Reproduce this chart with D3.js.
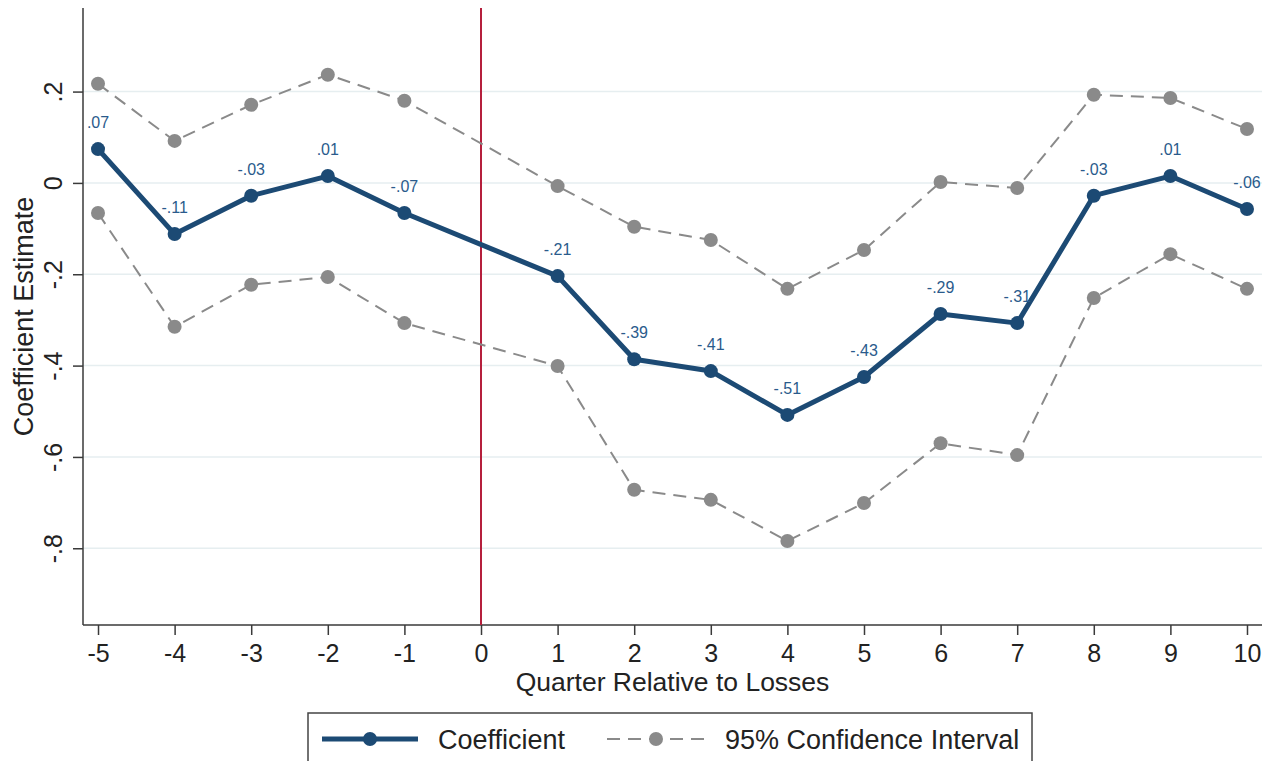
<!DOCTYPE html>
<html>
<head>
<meta charset="utf-8">
<script src="https://cdn.jsdelivr.net/npm/d3@7"></script>
<style>
  body { margin: 0; background: #fff; }
  svg text { font-family: "Liberation Sans", Arial, sans-serif; }
</style>
</head>
<body>
<svg id="chart"></svg>
<script>
var quarters = [-5, -4, -3, -2, -1, 1, 2, 3, 4, 5, 6, 7, 8, 9, 10];
var coef     = [0.074, -0.112, -0.028, 0.015, -0.066, -0.204, -0.386, -0.412, -0.508, -0.425, -0.287, -0.307, -0.028, 0.015, -0.057];
var coefText = [".07", "-.11", "-.03", ".01", "-.07", "-.21", "-.39", "-.41", "-.51", "-.43", "-.29", "-.31", "-.03", ".01", "-.06"];
var ciUpper  = [0.217, 0.092, 0.171, 0.237, 0.180, -0.007, -0.096, -0.125, -0.232, -0.147, 0.002, -0.011, 0.193, 0.186, 0.118];
var ciLower  = [-0.066, -0.315, -0.223, -0.206, -0.307, -0.401, -0.672, -0.694, -0.784, -0.701, -0.570, -0.596, -0.252, -0.156, -0.232];
var xTicks = [-5, -4, -3, -2, -1, 0, 1, 2, 3, 4, 5, 6, 7, 8, 9, 10];
var yTicks = [0.2, 0, -0.2, -0.4, -0.6, -0.8];
var yTickText = [".2", "0", "-.2", "-.4", "-.6", "-.8"];

var svgWidth = 1272, svgHeight = 761;
var plotLeft = 83, plotRight = 1262, plotTop = 8, plotBottom = 625;
var navy = "#1c4a74", grey = "#8a8a8a";

var svg = d3.select("#chart")
    .attr("width", svgWidth)
    .attr("height", svgHeight);

var x = d3.scaleLinear().domain([-5.196, 10.196]).range([plotLeft, plotRight]);
var y = d3.scaleLinear().domain([-0.968, 0.383]).range([plotBottom, plotTop]);

// gridlines
svg.selectAll("line.grid")
    .data(yTicks)
    .enter()
    .append("line")
    .attr("class", "grid")
    .attr("x1", plotLeft).attr("x2", plotRight)
    .attr("y1", d => y(d)).attr("y2", d => y(d))
    .attr("stroke", "#e6eef0")
    .attr("stroke-width", 1.5);

// axes
var yAxis = svg.append("g")
    .attr("transform", "translate(" + plotLeft + ",0)")
    .call(d3.axisLeft(y).tickValues(yTicks).tickSize(10).tickFormat((d, i) => yTickText[i]));
yAxis.select(".domain").attr("d", "M0," + plotTop + "V" + plotBottom);
yAxis.selectAll(".tick text")
    .attr("x", null).attr("dy", null)
    .attr("transform", "translate(-21,0) rotate(-90)")
    .attr("text-anchor", "middle")
    .attr("font-size", 25).attr("fill", "#222");

var xAxis = svg.append("g")
    .attr("transform", "translate(0," + plotBottom + ")")
    .call(d3.axisBottom(x).tickValues(xTicks).tickSize(10).tickFormat(d => String(d)));
xAxis.select(".domain").attr("d", "M" + plotLeft + ",0H" + plotRight);
xAxis.selectAll(".tick text")
    .attr("dy", null).attr("y", 37)
    .attr("font-size", 25).attr("fill", "#222");

svg.selectAll(".domain, .tick line").attr("stroke", "#3a3a3a").attr("stroke-width", 1.5);

// axis titles
svg.append("text")
    .attr("transform", "translate(33," + ((plotTop + plotBottom) / 2) + ") rotate(-90)")
    .attr("text-anchor", "middle")
    .attr("font-size", 27).attr("fill", "#222")
    .text("Coefficient Estimate");
svg.append("text")
    .attr("x", (plotLeft + plotRight) / 2).attr("y", 691)
    .attr("text-anchor", "middle")
    .attr("font-size", 26.5).attr("fill", "#222")
    .text("Quarter Relative to Losses");

// reference line at 0
svg.append("line")
    .attr("x1", x(0)).attr("x2", x(0))
    .attr("y1", plotTop).attr("y2", plotBottom)
    .attr("stroke", "#b51f3c").attr("stroke-width", 2);

var line = d3.line().x(d => x(d[0])).y(d => y(d[1]));

// confidence interval
[ciUpper, ciLower].forEach(function(series) {
  var pts = quarters.map((q, i) => [q, series[i]]);
  svg.append("path")
      .attr("d", line(pts))
      .attr("fill", "none")
      .attr("stroke", grey)
      .attr("stroke-width", 2)
      .attr("stroke-dasharray", "13,8");
  svg.append("g").selectAll("circle")
      .data(pts)
      .enter()
      .append("circle")
      .attr("cx", d => x(d[0])).attr("cy", d => y(d[1]))
      .attr("r", 7)
      .attr("fill", grey);
});

// coefficient
var coefPts = quarters.map((q, i) => [q, coef[i]]);
svg.append("path")
    .attr("d", line(coefPts))
    .attr("fill", "none")
    .attr("stroke", navy)
    .attr("stroke-width", 5)
    .attr("stroke-linejoin", "round");
svg.append("g").selectAll("circle")
    .data(coefPts)
    .enter()
    .append("circle")
    .attr("cx", d => x(d[0])).attr("cy", d => y(d[1]))
    .attr("r", 7)
    .attr("fill", navy);
svg.append("g").selectAll("text")
    .data(coefPts)
    .enter()
    .append("text")
    .attr("x", d => x(d[0])).attr("y", d => y(d[1]) - 21)
    .attr("text-anchor", "middle")
    .attr("font-size", 16)
    .attr("fill", "#2a5b8c")
    .text((d, i) => coefText[i]);

// legend
var lg = svg.append("g");
lg.append("rect")
    .attr("x", 308).attr("y", 713).attr("width", 724).attr("height", 52)
    .attr("fill", "#fff").attr("stroke", "#444").attr("stroke-width", 1.5);
lg.append("line")
    .attr("x1", 322).attr("x2", 418).attr("y1", 739).attr("y2", 739)
    .attr("stroke", navy).attr("stroke-width", 5);
lg.append("circle").attr("cx", 370).attr("cy", 739).attr("r", 7).attr("fill", navy);
lg.append("text").attr("x", 438).attr("y", 749)
    .attr("font-size", 27).attr("fill", "#222").text("Coefficient");
lg.append("line")
    .attr("x1", 607).attr("x2", 705).attr("y1", 739).attr("y2", 739)
    .attr("stroke", grey).attr("stroke-width", 2).attr("stroke-dasharray", "13,8");
lg.append("circle").attr("cx", 656).attr("cy", 739).attr("r", 7).attr("fill", grey);
lg.append("text").attr("x", 725).attr("y", 749)
    .attr("font-size", 27).attr("fill", "#222").text("95% Confidence Interval");
</script>
</body>
</html>
